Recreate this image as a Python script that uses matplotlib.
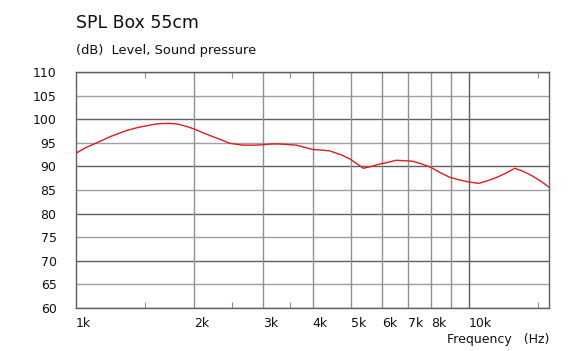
import matplotlib
matplotlib.use("Agg")
import matplotlib.pyplot as plt
from matplotlib.ticker import FixedLocator, NullFormatter

# SPL curve (Hz, dB)
freq_hz = [1000, 1060, 1130, 1230, 1345, 1430, 1510, 1590, 1660, 1740, 1800,
           1870, 1940, 2000, 2110, 2230, 2350, 2460, 2660, 2850,
           3000, 3150, 3300, 3640, 4000, 4420, 4750, 5000, 5200, 5390, 5650,
           5930, 6250, 6540, 7190, 7600, 8000, 8450, 8940, 9500, 10000, 10600,
           11200, 11800, 12450, 13100, 13800, 14500, 15300, 16000]
spl_db = [92.8, 94.0, 95.0, 96.4, 97.6, 98.2, 98.6, 98.95, 99.1, 99.1, 99.0,
          98.7, 98.3, 97.9, 97.1, 96.3, 95.6, 94.9, 94.5, 94.5,
          94.6, 94.75, 94.75, 94.5, 93.6, 93.3, 92.4, 91.5, 90.5, 89.6, 90.0,
          90.5, 90.9, 91.3, 91.1, 90.5, 89.8, 88.7, 87.7, 87.1, 86.7, 86.4,
          87.0, 87.7, 88.6, 89.6, 88.9, 88.0, 86.8, 85.6]

grid_freqs = [2000, 3000, 4000, 5000, 6000, 7000, 8000, 9000, 10000]
minor_freqs = [1500, 2500, 3500, 15000]
xtick_pos = [1000, 2000, 3000, 4000, 5000, 6000, 7000, 8000, 10000]
xtick_labels = ["1k", "2k", "3k", "4k", "5k", "6k", "7k", "8k", "10k"]
ytick_vals = list(range(60, 111, 5))

fig = plt.figure(figsize=(5.78, 3.51), dpi=100)
ax = fig.add_axes([76 / 578, 43 / 351, 473 / 578, 236 / 351])

ax.set_xscale("log")
ax.set_xlim(1000, 16000)
ax.set_ylim(60, 110)

# horizontal grid: darker every 10 dB
for v in ytick_vals:
    col = "#606060" if v % 10 == 0 else "#a0a0a0"
    ax.axhline(v, color=col, lw=1, zorder=1)
for f in grid_freqs:
    col = "#606060" if f == 10000 else "#909090"
    ax.axvline(f, color=col, lw=1, zorder=1)

ax.plot(freq_hz, spl_db, color="#dd1c1c", lw=1, zorder=3)

for s in ax.spines.values():
    s.set_color("#606060")
    s.set_linewidth(1)

ax.xaxis.set_major_locator(FixedLocator(minor_freqs))
ax.xaxis.set_major_formatter(NullFormatter())
ax.xaxis.set_minor_locator(FixedLocator([]))
ax.tick_params(axis="x", which="both", direction="in", length=4, color="#909090",
               top=True, bottom=True)
ax.set_yticks(ytick_vals)
ax.set_yticklabels([str(v) for v in ytick_vals])
ax.tick_params(axis="y", length=0, pad=14, labelsize=9, labelcolor="#101010")

for f, lab in zip(xtick_pos, xtick_labels):
    ax.text(f, -0.04, lab, transform=ax.get_xaxis_transform(), ha="left", va="top",
            fontsize=9, color="#101010")

fig.text(76 / 578, 1 - 28 / 351, "SPL Box 55cm", fontsize=12.4, color="#101010",
         ha="left", va="baseline")
fig.text(76 / 578, 1 - 54 / 351, "(dB)  Level, Sound pressure", fontsize=9.4,
         color="#101010", ha="left", va="baseline")
fig.text(549 / 578, 1 - 343 / 351, "Frequency   (Hz)", fontsize=9, color="#101010",
         ha="right", va="baseline")

fig.savefig("out.png", dpi=100)
